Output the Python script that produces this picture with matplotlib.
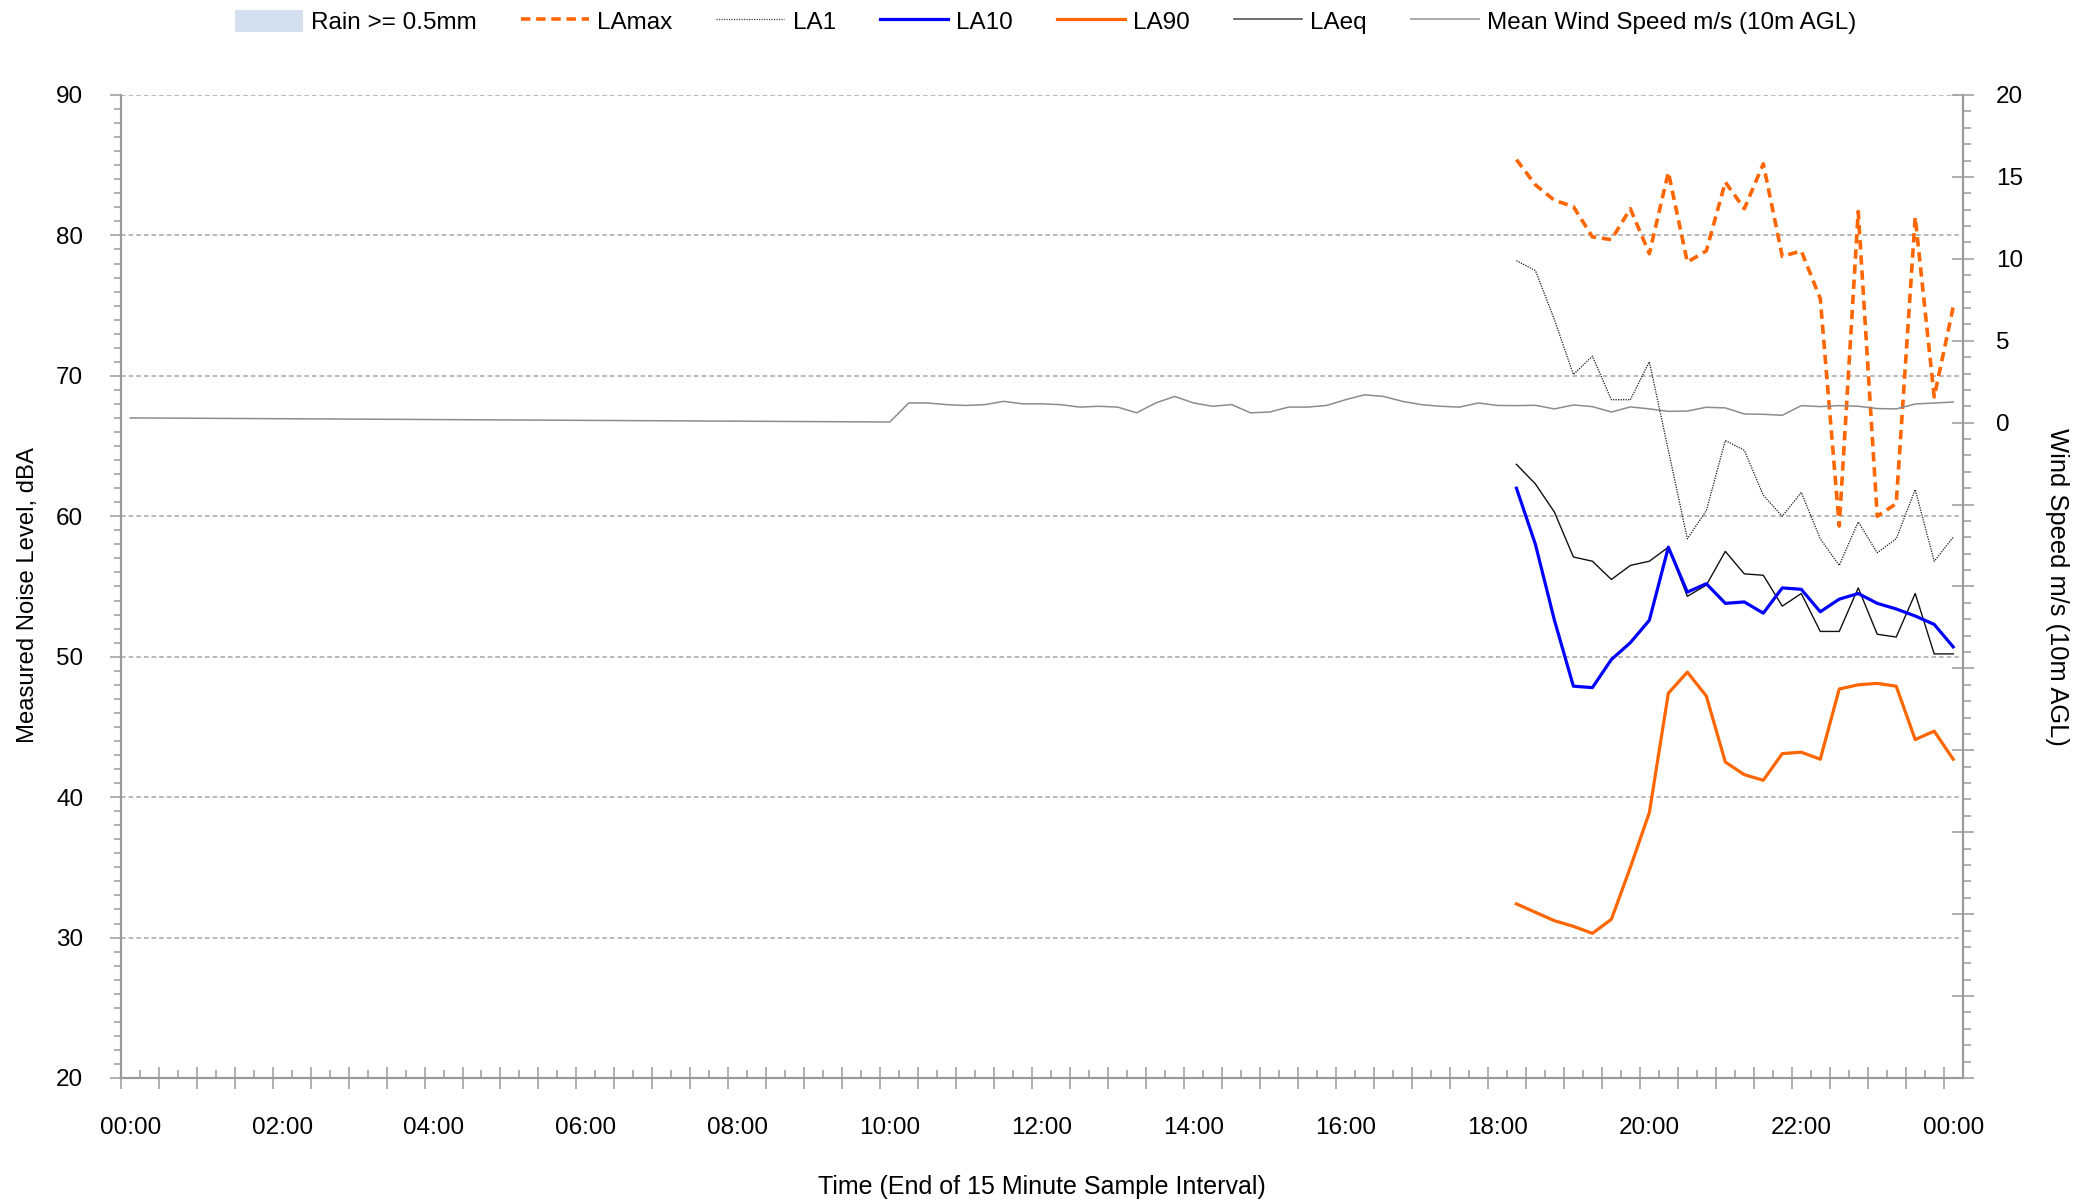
import matplotlib
matplotlib.use("Agg")
import matplotlib.pyplot as plt
from matplotlib.patches import Patch
from matplotlib.lines import Line2D

plt.rcParams["font.family"] = ["Liberation Sans", "DejaVu Sans"]

# 15 minute sample slots from 00:00 to 24:00 (97 slots)
N_SLOTS = 97
NOISE_START = 73  # 18:15

tick_labels = ["00:00", "02:00", "04:00", "06:00", "08:00", "10:00", "12:00",
               "14:00", "16:00", "18:00", "20:00", "22:00", "00:00"]

# noise levels, dBA, 18:15 .. 24:00
la_max = [85.4, 83.6, 82.5, 82.05, 79.9, 79.7, 81.9, 78.7, 84.5, 78.1, 78.9, 83.8,
          81.9, 85.1, 78.5, 78.9, 75.5, 59.3, 81.7, 60.0, 60.9, 81.3, 68.5, 74.9]
la_1 = [78.2, 77.5, 74.0, 70.1, 71.4, 68.3, 68.3, 71.0, 64.7, 58.4, 60.4, 65.4,
        64.7, 61.5, 60.0, 61.7, 58.4, 56.5, 59.6, 57.4, 58.4, 61.9, 56.8, 58.5]
la_10 = [62.0, 58.0, 52.6, 47.9, 47.8, 49.8, 51.0, 52.6, 57.8, 54.6, 55.2, 53.8,
         53.9, 53.1, 54.9, 54.8, 53.2, 54.1, 54.5, 53.8, 53.4, 52.9, 52.3, 50.7]
la_90 = [32.4, 31.8, 31.2, 30.8, 30.3, 31.3, 35.0, 38.9, 47.4, 48.9, 47.2, 42.5,
         41.6, 41.2, 43.1, 43.2, 42.7, 47.7, 48.0, 48.1, 47.9, 44.1, 44.7, 42.7]
la_eq = [63.7, 62.3, 60.3, 57.1, 56.8, 55.5, 56.5, 56.8, 57.8, 54.3, 55.1, 57.5,
         55.9, 55.8, 53.6, 54.5, 51.8, 51.8, 54.9, 51.6, 51.4, 54.5, 50.2, 50.2]

# mean wind speed m/s, 00:00 .. 24:00 (None = no reading)
wind = ([0.29] + [None] * 39 + [0.04] +
        [1.2, 1.2, 1.1, 1.05, 1.1, 1.3, 1.15, 1.15, 1.1, 0.95, 1.0, 0.95,
         0.6, 1.2, 1.6, 1.2, 1.0, 1.1, 0.6, 0.65, 0.95, 0.95, 1.05, 1.4,
         1.7, 1.6, 1.3, 1.1, 1.0, 0.95, 1.2, 1.05] +
        [1.04, 1.06, 0.84, 1.08, 0.98, 0.65, 0.96, 0.84, 0.69, 0.71, 0.94, 0.90,
         0.53, 0.51, 0.45, 1.04, 0.98, 1.04, 1.00, 0.86, 0.84, 1.14, 1.20, 1.26])

ORANGE = "#ff6600"
BLUE = "#0000ff"
AXIS_GREY = "#9a9a9a"
FS = 17.5

fig = plt.figure(figsize=(20.94, 12), dpi=100)
ax = fig.add_axes([0.05764, 0.10167, 0.87965, 0.81917])
ax2 = ax.twinx()

# slot k is drawn in the middle of its category
nx = [NOISE_START + i + 0.5 for i in range(len(la_max))]
ax.plot(nx, la_1, color="#1a1a1a", lw=0.9, ls=(0, (1, 1)), zorder=3)
ax.plot(nx, la_eq, color="#111111", lw=1.0, zorder=3)
ax.plot(nx, la_90, color=ORANGE, lw=2.3, zorder=4)
ax.plot(nx, la_10, color=BLUE, lw=2.3, zorder=4)
ax.plot(nx, la_max, color=ORANGE, lw=2.6, ls=(0, (2.6, 1.6)), zorder=5)

wx = [k + 0.5 for k, v in enumerate(wind) if v is not None]
wy = [v for v in wind if v is not None]
ax2.plot(wx, wy, color="#8c8c8c", lw=1.1)

# left axis
ax.set_xlim(0, N_SLOTS)
ax.set_ylim(20, 90)
ax.set_yticks(range(20, 91, 10))
ax.set_yticks(range(20, 91), minor=True)
ax.grid(axis="y", which="major", color="#a6a6a6", lw=1.1, ls=(0, (3, 2)))
ax.tick_params(axis="y", which="major", direction="out", length=8, width=1.1,
               color=AXIS_GREY, labelsize=FS, pad=19)
ax.tick_params(axis="y", which="minor", direction="out", length=5, width=1.1,
               color=AXIS_GREY)

# x axis: tick marks at category edges, labels at category centres
ax.set_xticks(range(0, N_SLOTS, 2))
ax.set_xticks(range(1, N_SLOTS, 2), minor=True)
ax.tick_params(axis="x", which="major", direction="inout", length=16, width=1.1,
               color=AXIS_GREY, labelbottom=False)
ax.tick_params(axis="x", which="minor", direction="in", length=5.8, width=1.1,
               color=AXIS_GREY)
sec = ax.secondary_xaxis("bottom")
sec.set_xticks([k * 8 + 0.5 for k in range(len(tick_labels))], tick_labels)
sec.tick_params(length=0, labelsize=FS, pad=28)
sec.spines["bottom"].set_visible(False)
sec.set_xlabel("Time (End of 15 Minute Sample Interval)", fontsize=18, labelpad=26)

for s in ["left", "bottom", "right"]:
    ax.spines[s].set_color(AXIS_GREY)
    ax.spines[s].set_linewidth(1.5)
    ax2.spines[s].set_color(AXIS_GREY)
    ax2.spines[s].set_linewidth(1.5)
ax.spines["top"].set_visible(False)
ax2.spines["top"].set_visible(False)

ax.set_ylabel("Measured Noise Level, dBA", fontsize=17.2, va="center")
ax.yaxis.set_label_coords(-0.0503, 0.491)

# right axis
ax2.set_ylim(-40, 20)
ax2.set_yticks(range(-40, 21, 5),
               [str(v) if v >= 0 else "" for v in range(-40, 21, 5)])
ax2.set_yticks(range(-40, 21), minor=True)
ax2.tick_params(axis="y", which="major", direction="inout", length=16, width=1.1,
                color=AXIS_GREY, labelsize=FS, pad=16)
ax2.tick_params(axis="y", which="minor", direction="out", length=5.8, width=1.1,
                color=AXIS_GREY)
ax2.set_ylabel("Wind Speed m/s (10m AGL)", fontsize=18.4, rotation=270, va="center")
ax2.yaxis.set_label_coords(1.0512, 0.5)

handles = [
    Patch(facecolor="#d4e0f0", edgecolor="none"),
    Line2D([], [], color=ORANGE, lw=2.6, ls=(0, (2.6, 1.6))),
    Line2D([], [], color="#444444", lw=0.9, ls=(0, (1, 1))),
    Line2D([], [], color=BLUE, lw=2.3),
    Line2D([], [], color=ORANGE, lw=2.3),
    Line2D([], [], color="#555555", lw=1.2),
    Line2D([], [], color="#aaaaaa", lw=1.4),
]
labels = ["Rain >= 0.5mm", "LAmax", "LA1", "LA10", "LA90", "LAeq",
          "Mean Wind Speed m/s (10m AGL)"]
fig.legend(handles, labels, loc="center", bbox_to_anchor=(0.4993, 0.9817),
           ncol=7, frameon=False, fontsize=FS, handlelength=2.8,
           handleheight=1.0, handletextpad=0.35, columnspacing=1.8)

fig.savefig("out.png", dpi=100)
